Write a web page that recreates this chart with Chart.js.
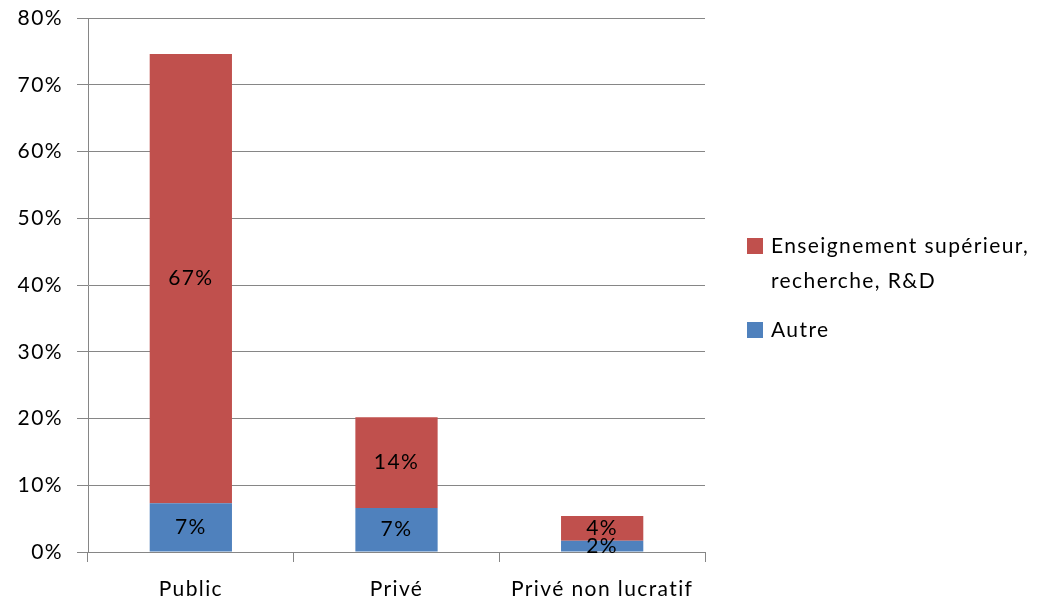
<!DOCTYPE html>
<html>
<head>
<meta charset="utf-8">
<script src="https://cdn.jsdelivr.net/npm/chart.js@4/dist/chart.umd.min.js"></script>
<style>
html,body{margin:0;padding:0;background:#fff;}
canvas{display:block;}
</style>
</head>
<body>
<canvas id="c" width="1053" height="603"></canvas>
<script>
const categories = ["Public", "Privé", "Privé non lucratif"];
const autreValues = [7.3, 6.6, 1.7];
const enseignementValues = [67.3, 13.6, 3.7];
const seriesNames = ["Autre", ["Enseignement supérieur,", "recherche, R&D"]];
const yTicks = [0, 10, 20, 30, 40, 50, 60, 70, 80];

const FONT = "Lato, 'Open Sans', sans-serif";
const FSIZE = 21;
const SPACING = "1.4px";
const GRID = "#868686";

const spacingPlugin = {
  id: "spacing",
  beforeDraw(chart) { chart.ctx.letterSpacing = SPACING; },
  beforeLayout(chart) { chart.ctx.letterSpacing = SPACING; }
};

const dataLabels = {
  id: "dataLabels",
  afterDatasetsDraw(chart) {
    const ctx = chart.ctx;
    ctx.save();
    ctx.letterSpacing = SPACING;
    ctx.font = FSIZE + "px " + FONT;
    ctx.fillStyle = "#000";
    ctx.textAlign = "center";
    ctx.textBaseline = "middle";
    chart.data.datasets.forEach((ds, i) => {
      const meta = chart.getDatasetMeta(i);
      meta.data.forEach((el, j) => {
        const y = (el.y + el.base) / 2;
        ctx.fillText(Math.round(ds.data[j]) + "%", el.x, y);
      });
    });
    ctx.restore();
  }
};

const sideLegend = {
  id: "sideLegend",
  afterDraw(chart) {
    const ctx = chart.ctx;
    ctx.save();
    ctx.letterSpacing = SPACING;
    ctx.font = FSIZE + "px " + FONT;
    ctx.textBaseline = "middle";
    ctx.textAlign = "left";
    const items = chart.data.datasets.slice().reverse();
    let y = 246;
    items.forEach(ds => {
      ctx.fillStyle = ds.backgroundColor;
      ctx.fillRect(747, y - 8, 16, 16);
      ctx.fillStyle = "#000";
      const lines = Array.isArray(ds.label) ? ds.label : [ds.label];
      lines.forEach((ln, k) => {
        ctx.fillText(ln, 771, y + k * 35);
      });
      y += (lines.length - 1) * 35 + 49;
    });
    ctx.restore();
  }
};

new Chart(document.getElementById("c"), {
  type: "bar",
  data: {
    labels: categories,
    datasets: [
      { label: seriesNames[0], data: autreValues, backgroundColor: "#4F81BD" },
      { label: seriesNames[1], data: enseignementValues, backgroundColor: "#C0504D" }
    ]
  },
  options: {
    responsive: false,
    animation: false,
    devicePixelRatio: 1,
    layout: { padding: { top: 18, right: 348, left: 0, bottom: 0 } },
    plugins: { legend: { display: false }, tooltip: { enabled: false } },
    datasets: { bar: { categoryPercentage: 1, barPercentage: 0.4 } },
    scales: {
      x: {
        stacked: true,
        grid: { display: true, drawOnChartArea: false, drawTicks: true, tickLength: 10, color: GRID, offset: true },
        border: { display: true, color: GRID },
        ticks: { font: { size: FSIZE, family: FONT }, color: "#000", padding: 15 },
        afterFit(s) { s.height = 51; s.paddingLeft = 0; s.paddingRight = 0; }
      },
      y: {
        stacked: true,
        min: 0, max: 80,
        afterBuildTicks(s) { s.ticks = yTicks.map(v => ({ value: v })); },
        grid: { color: GRID, tickLength: 11, drawTicks: true },
        border: { display: true, color: GRID },
        ticks: { font: { size: FSIZE, family: FONT }, color: "#000", padding: 14, callback: v => v + "%" },
        afterFit(s) { s.width = 88; s.paddingTop = 0; s.paddingBottom = 0; }
      }
    }
  },
  plugins: [spacingPlugin, dataLabels, sideLegend]
});
</script>
</body>
</html>
